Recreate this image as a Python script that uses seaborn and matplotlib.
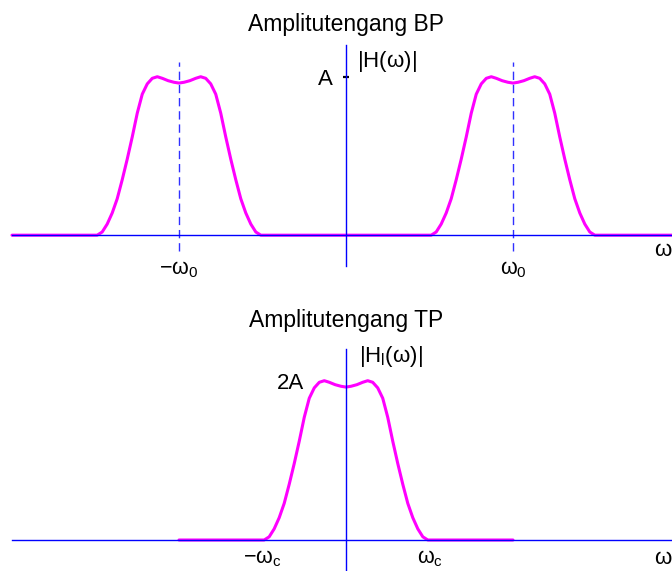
import matplotlib
matplotlib.use("Agg")
import matplotlib.pyplot as plt
import seaborn as sns

# bump shape: offset from bump centre (units of w0), height (units of A)
bump_offset = [-0.49, -0.46, -0.43, -0.40, -0.37, -0.34, -0.31, -0.28, -0.25, -0.22,
               -0.19, -0.16, -0.13, -0.10, -0.065, -0.03, 0.0,
               0.03, 0.065, 0.10, 0.13, 0.16, 0.19, 0.22, 0.25, 0.28,
               0.31, 0.34, 0.37, 0.40, 0.43, 0.46, 0.49]
bump_height = [0.0, 0.02, 0.07, 0.14, 0.23, 0.35, 0.48, 0.62, 0.77, 0.89,
               0.955, 0.99, 1.0, 0.99, 0.975, 0.965, 0.96,
               0.965, 0.975, 0.99, 1.0, 0.99, 0.955, 0.89, 0.77, 0.62,
               0.48, 0.35, 0.23, 0.14, 0.07, 0.02, 0.0]

# band pass: bumps at -w0 and +w0, flat from -2 to 2
bp_centres = [-1.0, 1.0]
bp_range = [-2.0, 2.0]
bp_ticks = [-1.0, 1.0]
bp_ticklabels = [r'$-\omega_0$', r'$\omega_0$']

# low pass: one bump at 0, drawn from -w0 to w0
tp_range = [-1.0, 1.0]
tp_ticks = [-0.5, 0.5]
tp_ticklabels = [r'$-\omega_c$', r'$\omega_c$']

bp_x = [bp_range[0]]
bp_y = [0.0]
for c in bp_centres:
    bp_x += [c + o for o in bump_offset]
    bp_y += bump_height
bp_x.append(bp_range[1])
bp_y.append(0.0)

tp_x = [tp_range[0]] + bump_offset + [tp_range[1]]
tp_y = [0.0] + bump_height + [0.0]

sns.set_style('white')
plt.rcParams['font.family'] = ['Liberation Sans', 'DejaVu Sans']
plt.rcParams['mathtext.fontset'] = 'custom'
plt.rcParams['mathtext.rm'] = 'Liberation Sans'
plt.rcParams['mathtext.it'] = 'Liberation Sans'
plt.rcParams['mathtext.bf'] = 'Liberation Sans:bold'
plt.rcParams['text.color'] = 'black'
plt.rcParams['xtick.color'] = 'black'
plt.rcParams['ytick.color'] = 'black'

fig = plt.figure(figsize=(6.72, 5.71), dpi=100)
ax1 = fig.add_axes([0, 286 / 571, 1, 285 / 571])
ax2 = fig.add_axes([0, 0, 1, 285 / 571])

xlim = (-346 / 167, 326 / 167)
magenta = '#ff00ff'
blue = '#0000ff'


def style_axes(ax):
    ax.set_facecolor('none')
    ax.set_xlim(*xlim)
    for s in ['top', 'right']:
        ax.spines[s].set_visible(False)
    ax.spines['left'].set_position(('data', 0))
    ax.spines['bottom'].set_position(('data', 0))
    ax.spines['left'].set_bounds(-0.195, 1.2)
    ax.spines['bottom'].set_bounds(-2.0, 2.0)
    for s in ['left', 'bottom']:
        ax.spines[s].set_color(blue)
        ax.spines[s].set_linewidth(1.0)


# --- band pass ---
ax = ax1
sns.lineplot(x=bp_x, y=bp_y, color=magenta, linewidth=2.2, estimator=None, ax=ax)
ax.vlines(bp_centres, -0.10, 1.09, colors='#3030ff', linestyles=(0, (6, 3.5)), linewidth=1.0)
style_axes(ax)
ax.set_ylim(-50 / 159, 236 / 159)
ax.set_xticks(bp_ticks)
ax.set_xticklabels(bp_ticklabels)
ax.tick_params(axis='x', bottom=True, length=0, pad=17, labelsize=15.5)
ax.set_yticks([1.0])
ax.set_yticklabels(['A'])
ax.tick_params(axis='y', left=True, direction='inout', length=5, width=1.6,
               color='black', pad=7, labelsize=16)
ax.text(0.0, 1.33, 'Amplitutengang BP', ha='center', va='center', fontsize=16.5)
ax.text(0.066, 1.094, r'$|H(\omega)|$', ha='left', va='center', fontsize=16)
ax.text(1.952, -0.094, r'$\omega$', ha='right', va='center', fontsize=16)

# --- low pass ---
ax = ax2
sns.lineplot(x=tp_x, y=tp_y, color=magenta, linewidth=2.2, estimator=None, ax=ax)
style_axes(ax)
ax.set_ylim(-31 / 159.3, 254 / 159.3)
ax.set_xticks(tp_ticks)
ax.set_xticklabels(tp_ticklabels)
ax.tick_params(axis='x', bottom=True, length=0, pad=6, labelsize=15.5)
ax.set_yticks([])
ax.text(0.0, 1.38, 'Amplitutengang TP', ha='center', va='center', fontsize=16.5)
ax.text(-0.25, 0.985, '2A', ha='right', va='center', fontsize=16)
ax.text(0.078, 1.155, r'$|H_l(\omega)|$', ha='left', va='center', fontsize=16)
ax.text(1.952, -0.113, r'$\omega$', ha='right', va='center', fontsize=16)

fig.savefig('out.png', dpi=100)
